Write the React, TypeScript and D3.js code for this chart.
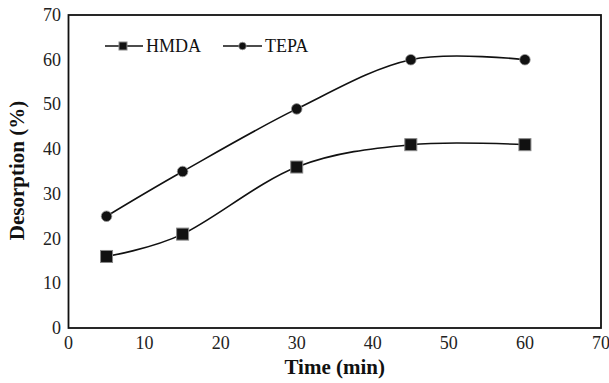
import React from "react";
import * as d3 from "d3";

const times = [5, 15, 30, 45, 60];
const hmda = [16, 21, 36, 41, 41];
const tepa = [25, 35, 49, 60, 60];
const xTicks = [0, 10, 20, 30, 40, 50, 60, 70];
const yTicks = [0, 10, 20, 30, 40, 50, 60, 70];

const W = 609, H = 383;
const L = 68.5, R = 601, T = 15, B = 328;

export default function App() {
  const x = d3.scaleLinear().domain([0, 70]).range([L, R]);
  const y = d3.scaleLinear().domain([0, 70]).range([B, T]);
  const line = d3
    .line<[number, number]>()
    .x((d) => x(d[0]))
    .y((d) => y(d[1]))
    .curve(d3.curveCatmullRom.alpha(0));
  const hPts = times.map((t, i) => [t, hmda[i]] as [number, number]);
  const tPts = times.map((t, i) => [t, tepa[i]] as [number, number]);
  const font = "'Liberation Serif', 'Times New Roman', serif";
  return (
    <svg
      width={W}
      height={H}
      style={{ position: "absolute", left: 0, top: 0 }}
      fontFamily={font}
    >
      <rect x={0} y={0} width={W} height={H} fill="#fff" />
      <path d={line(hPts) || ""} fill="none" stroke="#111" strokeWidth={1.6} />
      <path d={line(tPts) || ""} fill="none" stroke="#111" strokeWidth={1.6} />
      {hPts.map((d, i) => (
        <rect
          key={"h" + i}
          x={x(d[0]) - 6}
          y={y(d[1]) - 6}
          width={12}
          height={12}
          fill="#111"
          stroke="#888"
          strokeWidth={1}
        />
      ))}
      {tPts.map((d, i) => (
        <circle
          key={"t" + i}
          cx={x(d[0])}
          cy={y(d[1])}
          r={5.3}
          fill="#111"
          stroke="#999"
          strokeWidth={0.8}
        />
      ))}
      <rect x={L} y={T} width={R - L} height={B - T} fill="none" stroke="#111" strokeWidth={1.8} />
      {xTicks.map((t) => (
        <text key={"x" + t} x={x(t)} y={349} textAnchor="middle" fontSize={18} fill="#222">
          {t}
        </text>
      ))}
      {yTicks.map((t) => (
        <text key={"y" + t} x={61} y={y(t) + 6} textAnchor="end" fontSize={18} fill="#222">
          {t}
        </text>
      ))}
      <text x={(L + R) / 2} y={374} textAnchor="middle" fontSize={21} fontWeight="bold" fill="#111">
        Time (min)
      </text>
      <text
        transform={`translate(24, ${170.5}) rotate(-90)`}
        textAnchor="middle"
        fontSize={21}
        fontWeight="bold"
        fill="#111"
      >
        Desorption (%)
      </text>
      {/* legend */}
      <line x1={105} x2={143} y1={46} y2={46} stroke="#111" strokeWidth={1.6} />
      <rect x={119} y={42} width={8} height={8} fill="#111" stroke="#888" strokeWidth={1} />
      <text x={146} y={52} fontSize={18} fill="#111">HMDA</text>
      <line x1={223} x2={262} y1={46} y2={46} stroke="#111" strokeWidth={1.6} />
      <circle cx={242.5} cy={46} r={3.8} fill="#111" stroke="#999" strokeWidth={0.8} />
      <text x={265} y={52} fontSize={18} fill="#111">TEPA</text>
    </svg>
  );
}
